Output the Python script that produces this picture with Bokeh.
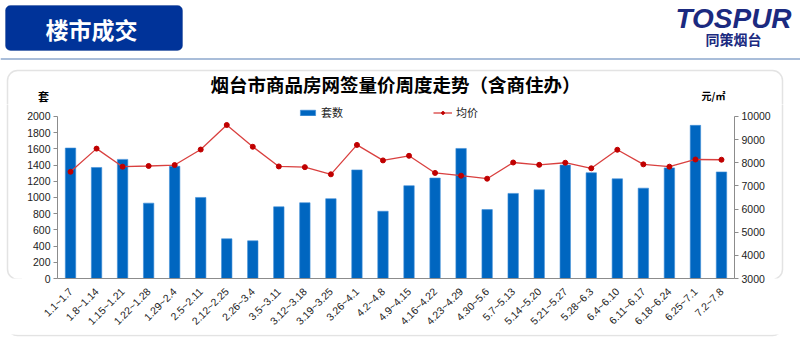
from bokeh.plotting import figure
from bokeh.layouts import column, row
from bokeh.models import (FactorRange, Range1d, LinearAxis, SingleIntervalTicker,
                          Label, BoxAnnotation, Legend, LegendItem)
from bokeh.embed import file_html
from bokeh.resources import INLINE
import math

# ---------------- data ----------------
weeks = ["1.1~1.7", "1.8~1.14", "1.15~1.21", "1.22~1.28", "1.29~2.4", "2.5~2.11",
         "2.12~2.25", "2.26~3.4", "3.5~3.11", "3.12~3.18", "3.19~3.25", "3.26~4.1",
         "4.2~4.8", "4.9~4.15", "4.16~4.22", "4.23~4.29", "4.30~5.6", "5.7~5.13",
         "5.14~5.20", "5.21~5.27", "5.28~6.3", "6.4~6.10", "6.11~6.17", "6.18~6.24",
         "6.25~7.1", "7.2~7.8"]
units = [1610, 1370, 1470, 930, 1385, 1000, 490, 465, 885, 935, 985, 1340,
         830, 1145, 1240, 1605, 850, 1050, 1095, 1400, 1305, 1230, 1115, 1365,
         1890, 1315]
prices = [7610, 8610, 7830, 7860, 7900, 8570, 9630, 8690, 7840, 7810, 7500, 8770,
          8100, 8300, 7560, 7440, 7310, 8010, 7910, 8000, 7760, 8560, 7930, 7830,
          8140, 8130]
units_axis = (0, 2000, 200)
price_axis = (3000, 10000, 1000)

title_text = "烟台市商品房网签量价周度走势（含商住办）"
header_text = "楼市成交"
series_units = "套数"
series_price = "均价"
unit_left = "套"
unit_right = "元/㎡"
logo_text = "TOSPUR"
logo_sub = "同策烟台"

# ---------------- style / geometry ----------------
CJK = "Noto Sans CJK SC"
NUM = "Liberation Sans"
BAR_COLOR = "#0066C0"
LINE_COLOR = "#D9403F"
MARK_COLOR = "#C00000"
AXIS_COLOR = "#8C8C8C"
W, H = 800, 353
TOP_H = 104            # height of the top decoration strip
CH_X0, CH_X1 = 22, 774  # chart figure horizontal extent
CH_Y1 = 334            # chart figure bottom
PLOT_L, PLOT_R = 57, 734
PLOT_T, PLOT_B = 116, 279  # pixel rows of axis maxima / minima


def deco(x0, y0, w, h):
    f = figure(width=w, height=h, x_range=Range1d(x0, x0 + w), y_range=Range1d(y0 + h, y0),
               x_axis_type=None, y_axis_type=None, min_border=0,
               toolbar_location=None, output_backend="svg")
    f.outline_line_color = None
    f.background_fill_color = "white"
    f.border_fill_color = "white"
    f.add_layout(BoxAnnotation(left=7, right=782, top=70, bottom=335,
                               fill_alpha=0, line_color="#A3A3A3", line_width=1.5,
                               border_radius=10, level="underlay"))
    return f


def lab(f, x, y, text, size, color="#000000", font=CJK, style="normal", align="center"):
    f.add_layout(Label(x=x, y=y, text=text, text_font=font, text_font_size=size,
                       text_font_style=style, text_color=color, text_align=align,
                       text_baseline="middle"))


# ---------------- top strip ----------------
top = deco(0, 0, W, TOP_H)
top.add_layout(BoxAnnotation(left=0, right=800, top=57.5, bottom=59.5, fill_color="#A9BDD9",
                             fill_alpha=1, line_color=None, level="underlay"))
top.add_layout(BoxAnnotation(left=5, right=182, top=5, bottom=50, fill_color="#003399",
                             fill_alpha=1, line_color="#002A80", border_radius=5,
                             level="underlay"))
lab(top, 91, 28.5, header_text, "23px", color="white", style="bold")
lab(top, 733, 18, logo_text, "28px", color="#1B2A80", font=NUM, style="bold italic")
lab(top, 733, 38, logo_sub, "14px", color="#1B2A80", style="bold")
lab(top, 395, 83, title_text, "18.5px", style="bold")
lab(top, 43, 95, unit_left, "11px", style="bold")
lab(top, 713, 95, unit_right, "10px", style="bold")

# ---------------- chart ----------------
ch_h = CH_Y1 - TOP_H
frame_h = PLOT_B - TOP_H
u_end = units_axis[0] + (units_axis[1] - units_axis[0]) * frame_h / (PLOT_B - PLOT_T)
p_end = price_axis[0] + (price_axis[1] - price_axis[0]) * frame_h / (PLOT_B - PLOT_T)

p = figure(width=CH_X1 - CH_X0, height=ch_h,
           x_range=FactorRange(factors=weeks, range_padding=0),
           y_range=Range1d(units_axis[0], u_end),
           output_backend="svg", toolbar_location=None,
           min_border_left=PLOT_L - CH_X0, min_border_right=CH_X1 - PLOT_R,
           min_border_top=0, min_border_bottom=CH_Y1 - PLOT_B)
p.extra_y_ranges = {"price": Range1d(price_axis[0], p_end)}
p.outline_line_color = None
p.xgrid.grid_line_color = None
p.ygrid.grid_line_color = None
p.background_fill_color = "white"
p.border_fill_color = "white"

bars = p.vbar(x=weeks, top=units, width=0.4, fill_color=BAR_COLOR,
              line_color="#3F8FD8", line_width=0.6)
line = p.line(x=weeks, y=prices, y_range_name="price", line_color=LINE_COLOR, line_width=1.3)
pts = p.scatter(x=weeks, y=prices, y_range_name="price", marker="circle", size=5,
                fill_color=MARK_COLOR, line_color=MARK_COLOR)

ax_l = p.yaxis[0]
ax_l.ticker = SingleIntervalTicker(interval=units_axis[2])
ax_l.bounds = (units_axis[0], units_axis[1])
ax_r = LinearAxis(y_range_name="price", ticker=SingleIntervalTicker(interval=price_axis[2]),
                  bounds=(price_axis[0], price_axis[1]))
p.add_layout(ax_r, "right")
for ax in [ax_l, ax_r]:
    ax.axis_line_color = AXIS_COLOR
    ax.major_tick_line_color = AXIS_COLOR
    ax.major_tick_in = 0
    ax.major_tick_out = 4
    ax.minor_tick_line_color = None
    ax.major_label_text_font = NUM
    ax.major_label_text_font_size = "10.5px"
    ax.major_label_text_color = "#222222"
    ax.major_label_standoff = 3

ax_b = p.xaxis[0]
ax_b.axis_line_color = AXIS_COLOR
ax_b.major_tick_line_color = None
ax_b.minor_tick_line_color = None
ax_b.major_label_orientation = math.pi / 4
ax_b.major_label_text_font = NUM
ax_b.major_label_text_font_size = "10.5px"
ax_b.major_label_text_color = "#222222"
ax_b.major_label_standoff = 5

legend = Legend(items=[LegendItem(label=series_units, renderers=[bars]),
                       LegendItem(label=series_price, renderers=[line, pts])],
                location=(241, 158), orientation="horizontal",
                spacing=90, glyph_width=19, glyph_height=7, label_height=14,
                label_standoff=4, padding=0, margin=0, border_line_color=None,
                background_fill_alpha=0, label_text_font=CJK,
                label_text_font_size="11px", label_text_color="#222222")
p.add_layout(legend)

# ---------------- side / bottom strips ----------------
left = deco(0, TOP_H, CH_X0, ch_h)
right = deco(CH_X1, TOP_H, W - CH_X1, ch_h)
bottom = deco(0, CH_Y1, W, H - CH_Y1)

layout = column(top, row(left, p, right), bottom)
open("out.html", "w").write(file_html(layout, INLINE))
